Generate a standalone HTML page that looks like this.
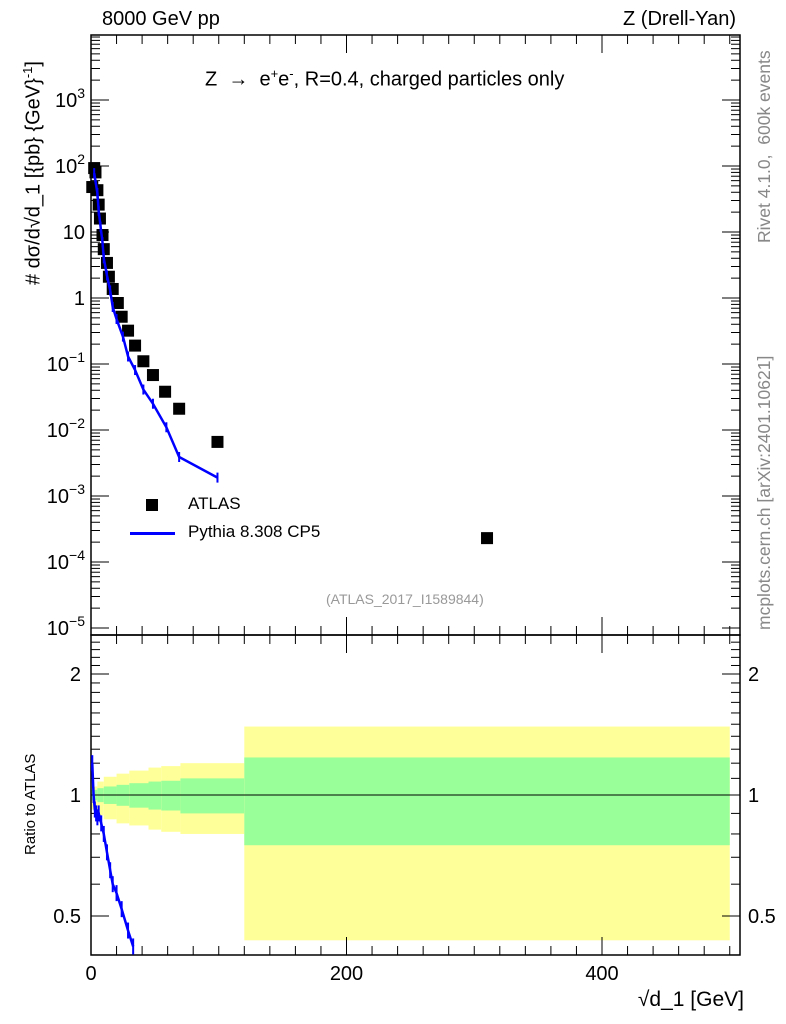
<!DOCTYPE html>
<html><head><meta charset="utf-8"><style>
body{margin:0;background:#fff;}
svg{display:block;font-family:"Liberation Sans",sans-serif;}
</style></head><body>
<svg id="c" width="786" height="1024" viewBox="0 0 786 1024"></svg>
<script>
const atlasX=[1,2.5,3.5,5,6,7,9,10,12.5,14,17,21,24,29,34.5,41,48.5,58,69,99,310];
const atlasY=[48,93,80,43,26,16,9,5.5,3.4,2.1,1.37,0.84,0.52,0.32,0.19,0.11,0.068,0.038,0.021,0.0066,0.00023];
const pyX=[2.5,5,6,7.5,9,10,12.5,15,17,20,25,29,34.5,41,48.5,59,69,99];
const pyY=[78,39,21,12,7,4,2.2,1.3,0.73,0.48,0.26,0.13,0.081,0.041,0.025,0.011,0.0039,0.0019];
const ratioX=[1,2,3,4,5,6,8,10,12.5,15,17,20,24,29,33];
const ratioY=[1.2,1.0,0.92,0.9,0.88,0.9,0.85,0.8,0.72,0.65,0.6,0.57,0.52,0.46,0.42];
const bandEdges=[0,5,10,20,30,45,55,70,120,500];
const yelHi=[1.05,1.08,1.11,1.13,1.15,1.17,1.18,1.20,1.48];
const yelLo=[0.92,0.89,0.87,0.85,0.84,0.82,0.81,0.80,0.435];
const grnHi=[1.03,1.04,1.05,1.06,1.07,1.08,1.085,1.10,1.24];
const grnLo=[0.97,0.96,0.95,0.94,0.93,0.92,0.915,0.90,0.75];
const xTicks=[0,200,400];
const yTickExp=[-5,-4,-3,-2,-1,0,1,2,3];
const yTickBase=["10","10","10","10","10","1","10","10","10"];
const yTickSup=["−5","−4","−3","−2","−1","","","2","3"];
const rTicks=[0.5,1,2];

const S=document.getElementById('c'),NS='http://www.w3.org/2000/svg';
function el(t,a,p){const e=document.createElementNS(NS,t);for(const k in a)e.setAttribute(k,a[k]);(p||S).appendChild(e);return e;}
const L=91,R=740,T=35,M=635,B=955;
const X=v=>L+v*1.2775;
const Y=v=>298-66*Math.log10(v);
const RY=v=>795-121*Math.log2(v);

for(let i=0;i<bandEdges.length-1;i++){
 const x0=X(bandEdges[i]),x1=Math.min(X(bandEdges[i+1]),R-10);
 const y=el('rect',{x:x0,y:RY(yelHi[i]),width:x1-x0,height:RY(yelLo[i])-RY(yelHi[i]),fill:'#ffff99'});
 
 const g=el('rect',{x:x0,y:RY(grnHi[i]),width:x1-x0,height:RY(grnLo[i])-RY(grnHi[i]),fill:'#99ff99'});
 
}
el('line',{x1:L,x2:R,y1:RY(1),y2:RY(1),stroke:'#000','stroke-width':1});

el('rect',{x:L,y:T,width:R-L,height:M-T,fill:'none',stroke:'#000','stroke-width':1.5});
el('rect',{x:L,y:M,width:R-L,height:B-M,fill:'none',stroke:'#000','stroke-width':1.5});

for(let e=-5;e<=4;e++){for(let m=1;m<10;m++){const v=m*Math.pow(10,e);const y=Y(v);if(y<T||y>M)continue;const len=m==1?18:9;
 el('line',{x1:L,x2:L+len,y1:y,y2:y,stroke:'#000'});el('line',{x1:R,x2:R-len,y1:y,y2:y,stroke:'#000'});}}
yTickExp.forEach((e,i)=>{const y=Y(Math.pow(10,e));
 const t=el('text',{x:L-6,y:y+7,'text-anchor':'end','font-size':20});
 const a=el('tspan',{},t);a.textContent=yTickBase[i];
 if(yTickSup[i]){const s=el('tspan',{dy:-9,'font-size':14},t);s.textContent=yTickSup[i];}
 });
for(let v=0.4;v<=2.5;v+=0.1){const y=RY(v);if(y<M||y>B)continue;const big=[0.5,1,2].some(q=>Math.abs(q-v)<1e-6);const len=big?18:9;
 el('line',{x1:L,x2:L+len,y1:y,y2:y,stroke:'#000'});el('line',{x1:R,x2:R-len,y1:y,y2:y,stroke:'#000'});}
rTicks.forEach(v=>{const y=RY(v);const a=el('text',{x:L-10,y:y+7,'text-anchor':'end','font-size':20});a.textContent=v;
 const b=el('text',{x:R+8,y:y+7,'font-size':20});b.textContent=v;});
for(let v=0;v<=500;v+=20){const x=X(v);const len=v%200==0?18:9;
 el('line',{x1:x,x2:x,y1:B,y2:B-len,stroke:'#000'});el('line',{x1:x,x2:x,y1:M,y2:M-len,stroke:'#000'});el('line',{x1:x,x2:x,y1:T,y2:T+len,stroke:'#000'});el('line',{x1:x,x2:x,y1:M,y2:M+len,stroke:'#000'});}
xTicks.forEach(v=>{const t=el('text',{x:X(v),y:B+25,'text-anchor':'middle','font-size':20});t.textContent=v;
 });

atlasX.forEach((x,i)=>{const r=el('rect',{x:X(x)-6,y:Y(atlasY[i])-6,width:12,height:12,fill:'#000'});
 });
const p=el('polyline',{points:pyX.map((x,i)=>X(x)+','+Y(pyY[i])).join(' '),fill:'none',stroke:'#0000ff','stroke-width':2.5});

pyX.forEach((x,i)=>{const y=Y(pyY[i]);el('line',{x1:X(x),x2:X(x),y1:y-5,y2:y+5,stroke:'#0000ff','stroke-width':2});});
const rp=el('polyline',{points:ratioX.map((x,i)=>X(x)+','+Math.min(RY(ratioY[i]),B)).join(' '),fill:'none',stroke:'#0000ff','stroke-width':2.5});

ratioX.forEach((x,i)=>{const y=RY(ratioY[i]);el('line',{x1:X(x),x2:X(x),y1:y-8,y2:Math.min(y+8,B),stroke:'#0000ff','stroke-width':2});});
</script>
<div style="position:absolute;left:0;top:0;width:786px;height:1024px;pointer-events:none;font-family:'Liberation Sans',sans-serif;">
 <div style="position:absolute;left:102px;top:8px;font-size:20px;">8000 GeV pp</div>
 <div style="position:absolute;right:50px;top:8px;font-size:20px;">Z (Drell-Yan)</div>
 <div style="position:absolute;left:205px;top:66px;font-size:20px;">Z &nbsp;→&nbsp; e<sup style="font-size:13px">+</sup>e<sup style="font-size:13px">-</sup>, R=0.4, charged particles only</div>
 <div style="position:absolute;left:146px;top:499px;width:12px;height:12px;background:#000"></div>
 <div style="position:absolute;left:188px;top:494px;font-size:17px;">ATLAS</div>
 <div style="position:absolute;left:130px;top:532px;width:45px;height:3px;background:#0000ff"></div>
 <div style="position:absolute;left:188px;top:522px;font-size:17px;">Pythia 8.308 CP5</div>
 <div style="position:absolute;left:326px;top:591px;font-size:14px;color:#999;">(ATLAS_2017_I1589844)</div>
 <div style="position:absolute;left:764px;top:243px;font-size:17.5px;color:#888;transform-origin:0 0;transform:rotate(-90deg) translate(0,-10px);white-space:nowrap;">Rivet 4.1.0, &nbsp;600k events</div>
 <div style="position:absolute;left:764px;top:630px;font-size:17.5px;color:#888;transform-origin:0 0;transform:rotate(-90deg) translate(0,-10px);white-space:nowrap;">mcplots.cern.ch [arXiv:2401.10621]</div>
 <div style="position:absolute;left:20px;top:30px;font-size:20px;transform-origin:0 0;transform:rotate(-90deg) translate(-255px,0);white-space:nowrap;"># dσ/d√d_1 [{pb} {GeV}<sup style="font-size:13px">-1</sup>]</div>
 <div style="position:absolute;left:22px;top:700px;font-size:15px;transform-origin:0 0;transform:rotate(-90deg) translate(-155px,0);white-space:nowrap;">Ratio to ATLAS</div>
 <div style="position:absolute;right:42px;top:988px;font-size:21px;">√d_1 [GeV]</div>
</div>
</body></html>
